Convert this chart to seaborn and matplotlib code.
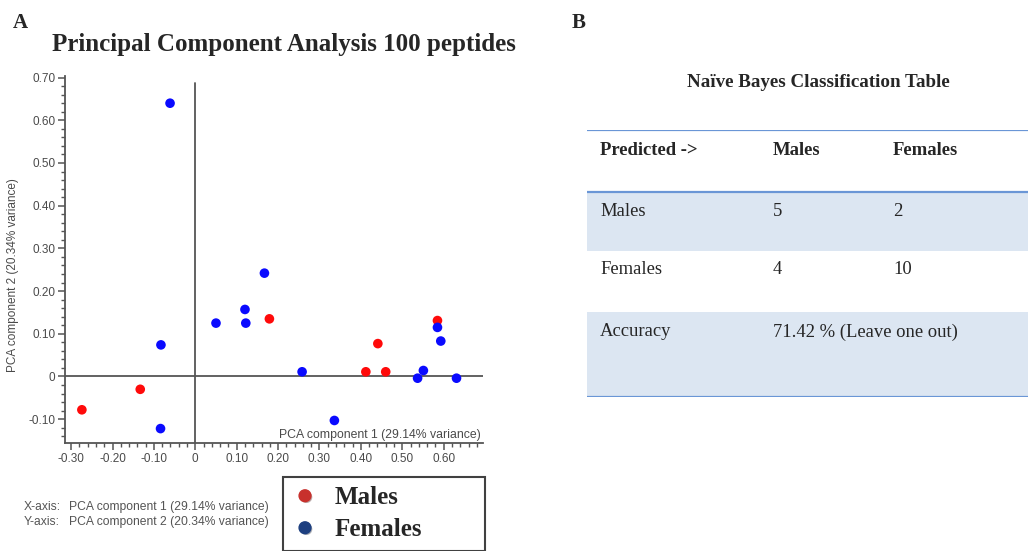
import matplotlib
matplotlib.use("Agg")
import matplotlib.pyplot as plt
import matplotlib.patheffects as pe
from matplotlib.lines import Line2D
from matplotlib.ticker import FixedLocator, FixedFormatter, MultipleLocator
import numpy as np
import pandas as pd
import seaborn as sns

# ---- PCA scores (component 1, component 2) ----
males_pc1 = [-0.274, -0.133, 0.179, 0.412, 0.441, 0.460, 0.585]
males_pc2 = [-0.078, -0.030, 0.135, 0.011, 0.077, 0.011, 0.131]
females_pc1 = [-0.061, -0.083, -0.084, 0.050, 0.120, 0.122, 0.167,
               0.258, 0.336, 0.537, 0.551, 0.585, 0.593, 0.631]
females_pc2 = [0.640, 0.074, -0.122, 0.125, 0.157, 0.125, 0.242,
               0.011, -0.103, -0.004, 0.014, 0.115, 0.083, -0.004]
groups = ["Males", "Females"]

x_ticks = [-0.30, -0.20, -0.10, 0.0, 0.10, 0.20, 0.30, 0.40, 0.50, 0.60]
x_tick_labels = ["-0.30", "-0.20", "-0.10", "0", "0.10", "0.20", "0.30", "0.40", "0.50", "0.60"]
y_ticks = [-0.10, 0.0, 0.10, 0.20, 0.30, 0.40, 0.50, 0.60, 0.70]
y_tick_labels = ["-0.10", "0", "0.10", "0.20", "0.30", "0.40", "0.50", "0.60", "0.70"]

pc1_label = "PCA component 1 (29.14% variance)"
pc2_label = "PCA component 2 (20.34% variance)"

# ---- Naive Bayes confusion table ----
table_title = "Naïve Bayes Classification Table"
header_row = ["Predicted ->", "Males", "Females"]
row_labels = ["Males", "Females"]
predicted_males = [5, 4]
predicted_females = [2, 10]
accuracy_label = "Accuracy"
accuracy_text = "71.42 % (Leave one out)"

df = pd.DataFrame({
    "pc1": males_pc1 + females_pc1,
    "pc2": males_pc2 + females_pc2,
    "group": [groups[0]] * len(males_pc1) + [groups[1]] * len(females_pc1),
})

sns.set_theme(style="white")
plt.rcParams["font.family"] = ["Liberation Sans", "DejaVu Sans"]

W, H = 1028, 551
fig = plt.figure(figsize=(W / 100, H / 100), dpi=100)
fig.patch.set_facecolor("white")

def fx(px):
    return px / W

def fy(py):
    return 1 - py / H

SERIF = ["Liberation Serif", "DejaVu Serif"]
GREY = "#4a4a4a"

# ---- Panel A: PCA scatter ----
left, right, top, bottom = 64.9, 483.0, 76.3, 443.1
ax = fig.add_axes([fx(left), fy(bottom), (right - left) / W, (bottom - top) / H])
sns.scatterplot(data=df, x="pc1", y="pc2", hue="group",
                palette={"Males": "#ff0a0a", "Females": "#0a0aff"},
                s=48, linewidth=0, ax=ax, legend=False, zorder=3)
ax.set_xlim(-0.315, 0.695)
ax.set_ylim(-0.156, 0.703)
ax.axhline(0, color="#555555", lw=1.3, zorder=1)
ax.axvline(0, color="#555555", lw=1.3, ymax=(0.687 + 0.156) / (0.703 + 0.156), zorder=1)

for side in ("top", "right"):
    ax.spines[side].set_visible(False)
for side in ("left", "bottom"):
    ax.spines[side].set_color("#555555")
    ax.spines[side].set_linewidth(1.3)

ax.xaxis.set_major_locator(FixedLocator(x_ticks))
ax.xaxis.set_major_formatter(FixedFormatter(x_tick_labels))
ax.yaxis.set_major_locator(FixedLocator(y_ticks))
ax.yaxis.set_major_formatter(FixedFormatter(y_tick_labels))
ax.xaxis.set_minor_locator(MultipleLocator(0.02))
ax.yaxis.set_minor_locator(MultipleLocator(0.02))
ax.tick_params(which="major", direction="out", length=5, width=1.1, color="#555555",
               labelsize=8.5, labelcolor=GREY, pad=2, left=True, bottom=True)
ax.tick_params(which="minor", direction="out", length=3, width=1.0, color="#555555",
               left=True, bottom=True)

ax.set_ylabel(pc2_label, fontsize=8.5, color=GREY, va="center")
ax.yaxis.set_label_coords((13 - left) / (right - left), (bottom - 275) / (bottom - top))
ax.set_xlabel(pc1_label, fontsize=8.8, color=GREY, ha="right", va="center")
ax.xaxis.set_label_coords((481 - left) / (right - left), (bottom - 435) / (bottom - top))

fig.text(fx(13), fy(28), "A", fontsize=15, fontweight="bold", family=SERIF,
         ha="left", va="baseline")
fig.text(fx(284), fy(51), "Principal Component Analysis 100 peptides", fontsize=18,
         fontweight="bold", family=SERIF, ha="center", va="baseline")

fig.text(fx(24), fy(507), "X-axis:", fontsize=8.7, color="#555555", va="center")
fig.text(fx(69), fy(507), pc1_label, fontsize=8.7, color="#555555", va="center")
fig.text(fx(24), fy(522), "Y-axis:", fontsize=8.7, color="#555555", va="center")
fig.text(fx(69), fy(522), pc2_label, fontsize=8.7, color="#555555", va="center")

shadow = [pe.SimplePatchShadow(offset=(1, -1), alpha=0.35), pe.Normal()]
handles = [
    Line2D([], [], marker="o", ls="", markersize=8.5, markerfacecolor="#c8302c",
           markeredgecolor="#c8302c", path_effects=shadow),
    Line2D([], [], marker="o", ls="", markersize=8.5, markerfacecolor="#1d3f80",
           markeredgecolor="#1d3f80", path_effects=shadow),
]
leg = fig.legend(handles, groups, loc="upper left",
                 bbox_to_anchor=(fx(283), fy(477) - 0.001, (485 - 283) / W, 0.001),
                 bbox_transform=fig.transFigure, mode="expand",
                 prop={"family": SERIF, "weight": "bold", "size": 18},
                 frameon=True, fancybox=False, borderpad=0.38, handlelength=1.0,
                 handletextpad=0.7, labelspacing=0.36, borderaxespad=0)
leg.get_frame().set_edgecolor("#111111")
leg.get_frame().set_linewidth(1.5)

# ---- Panel B: classification table ----
fig.text(fx(572), fy(28), "B", fontsize=15, fontweight="bold", family=SERIF,
         ha="left", va="baseline")
fig.text(fx(818), fy(87), table_title, fontsize=13.7, fontweight="bold",
         family=SERIF, ha="center", va="baseline")

t_left, t_right, t_top, t_bottom = 587, 1028, 130, 397
tax = fig.add_axes([fx(t_left), fy(t_bottom), (t_right - t_left) / W, (t_bottom - t_top) / H])
tax.set_xlim(0, t_right - t_left)
tax.set_ylim(t_bottom, t_top)
tax.axis("off")

row_edges = [130, 192, 251, 312, 397]
row_fill = [None, "#dce6f2", None, "#dce6f2"]
for i, fill in enumerate(row_fill):
    if fill:
        tax.axhspan(row_edges[i], row_edges[i + 1], color=fill, lw=0, zorder=0)
line_color = "#6a96d6"
for yv in (row_edges[0], row_edges[1], row_edges[-1]):
    tax.axhline(yv, color=line_color, lw=1.6, zorder=2)

col_x = [13, 186, 306]
fs = 13.4
for j, txt in enumerate(header_row):
    tax.text(col_x[j], row_edges[0] + 25, txt, fontsize=fs, fontweight="bold",
             family=SERIF, va="baseline", ha="left")
body = [
    [row_labels[0], str(predicted_males[0]), str(predicted_females[0])],
    [row_labels[1], str(predicted_males[1]), str(predicted_females[1])],
]
for i, row in enumerate(body):
    for j, txt in enumerate(row):
        tax.text(col_x[j], row_edges[i + 1] + 23.5, txt, fontsize=fs,
                 family=SERIF, va="baseline", ha="left")
tax.text(col_x[0], row_edges[3] + 24.5, accuracy_label, fontsize=fs, family=SERIF,
         va="baseline", ha="left")
tax.text(col_x[1], row_edges[3] + 24.5, accuracy_text, fontsize=fs, family=SERIF,
         va="baseline", ha="left")

fig.savefig("out.png", dpi=100)
